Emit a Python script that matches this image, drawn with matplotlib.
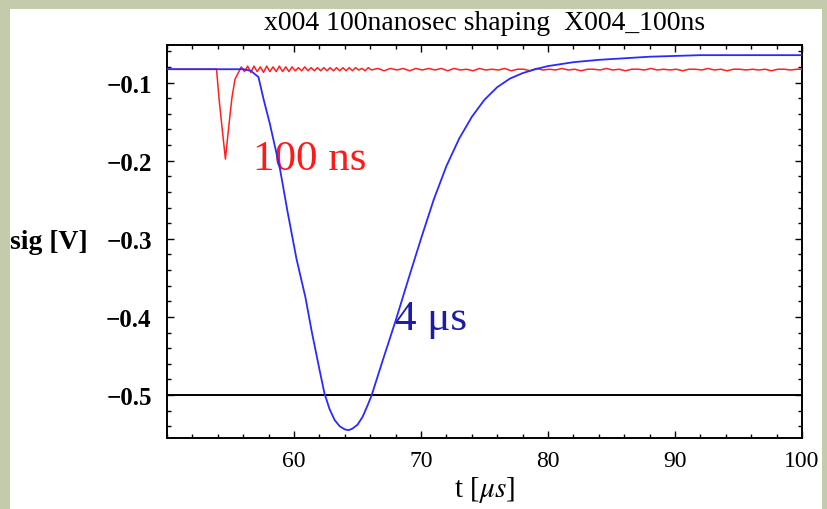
import matplotlib
matplotlib.use("Agg")
import matplotlib.pyplot as plt
from matplotlib.patches import Rectangle
from matplotlib.ticker import MultipleLocator

plt.rcParams['font.family'] = ['Liberation Serif', 'DejaVu Serif']
plt.rcParams['mathtext.fontset'] = 'stix'

# ---- data ----
blue_t = [50, 55.5, 56.0, 56.6, 57.2, 57.6, 58.1, 58.9, 59.5, 60.2, 60.9, 61.4, 62.0, 62.4,
          62.8, 63.2, 63.6, 64.0, 64.3, 64.6, 65.0, 65.4, 65.8, 66.1, 67.0, 68.0, 69.0,
          70.0, 71.0, 72.0, 73.0, 74.0, 75.0, 76.0, 77.0, 78.0, 79.0, 80.0, 82.0, 84.0,
          86.0, 88.0, 90.0, 92.0, 100]
blue_v = [-0.083, -0.083, -0.083, -0.085, -0.093, -0.121, -0.153, -0.211, -0.266, -0.326,
          -0.375, -0.419, -0.467, -0.498, -0.518, -0.532, -0.540, -0.544, -0.545, -0.543,
          -0.538, -0.528, -0.513, -0.501, -0.455, -0.405, -0.352, -0.300, -0.250, -0.207,
          -0.172, -0.144, -0.122, -0.106, -0.095, -0.088, -0.083, -0.079, -0.074, -0.071,
          -0.069, -0.067, -0.066, -0.065, -0.065]

red_t = [50, 53.9, 54.1, 54.35, 54.6, 54.8, 55.1, 55.35, 55.6,
         55.85, 56.1, 56.35, 56.6, 56.85, 57.1, 57.35, 57.6, 57.85, 58.1, 58.35, 58.6,
         58.85, 59.1, 59.35, 59.6, 59.85, 60.1, 60.35, 60.6, 60.85, 61.1, 61.35, 61.6,
         61.85, 62.1, 62.35, 62.6, 62.85, 63.1, 63.35, 63.6, 63.85, 64.1, 64.35, 64.6,
         64.85, 65.1, 65.35, 65.6, 65.85, 66.1, 66.6, 67.1, 67.6, 68.1, 68.6, 69.1,
         69.6, 70.1, 70.6, 71.1, 71.6, 72.1, 72.6, 73.1, 73.6, 74.1, 74.6, 75.1, 75.6,
         76.1, 76.6, 77.1, 77.6, 78.1, 78.6, 79.1, 79.6, 80.1, 80.6, 81.1, 81.6, 82.1,
         82.6, 83.1, 83.6, 84.1, 84.6, 85.1, 85.6, 86.1, 86.6, 87.1, 87.6, 88.1, 88.6,
         89.1, 89.6, 90.1, 90.6, 91.1, 91.6, 92.1, 92.6, 93.1, 93.6, 94.1, 94.6, 95.1,
         95.6, 96.1, 96.6, 97.1, 97.6, 98.1, 98.6, 99.1, 99.6, 100]
red_v = [-0.083, -0.083, -0.121, -0.160, -0.198, -0.166, -0.121, -0.096, -0.088,
         -0.080, -0.086, -0.079, -0.087, -0.079, -0.086, -0.080, -0.087, -0.079, -0.086,
         -0.080, -0.086, -0.079, -0.086, -0.080, -0.086, -0.080, -0.085, -0.081, -0.085,
         -0.080, -0.085, -0.081, -0.085, -0.081, -0.085, -0.081, -0.085, -0.081, -0.085,
         -0.081, -0.085, -0.081, -0.085, -0.081, -0.085, -0.081, -0.084, -0.082, -0.085,
         -0.081, -0.084, -0.082, -0.085, -0.082, -0.084, -0.082, -0.085, -0.082, -0.084,
         -0.082, -0.084, -0.082, -0.085, -0.082, -0.084, -0.083, -0.085, -0.082, -0.084,
         -0.083, -0.084, -0.082, -0.085, -0.083, -0.083, -0.085, -0.082, -0.084, -0.083,
         -0.084, -0.082, -0.084, -0.083, -0.085, -0.083, -0.083, -0.084, -0.082, -0.084,
         -0.083, -0.085, -0.083, -0.083, -0.084, -0.082, -0.084, -0.083, -0.084, -0.083,
         -0.085, -0.083, -0.083, -0.084, -0.082, -0.084, -0.083, -0.085, -0.083, -0.083,
         -0.084, -0.083, -0.084, -0.083, -0.085, -0.083, -0.083, -0.084, -0.083, -0.083]

ref_level = -0.5

x_ticks = [60, 70, 80, 90, 100]
y_ticks = [-0.1, -0.2, -0.3, -0.4, -0.5]
y_tick_labels = ['\u22120.1', '\u22120.2', '\u22120.3', '\u22120.4', '\u22120.5']

title = 'x004 100nanosec shaping  X004_100ns'

# ---- figure ----
W, H = 828, 510
fig = plt.figure(figsize=(W / 100, H / 100), dpi=100)
fig.patch.set_facecolor('#c4cbad')
fig.patches.append(Rectangle((10 / W, 0), (822 - 10) / W, (H - 10) / H,
                             transform=fig.transFigure, facecolor='white',
                             edgecolor='none', zorder=-10))

ax = fig.add_axes([167 / W, (H - 439) / H, (802 - 167) / W, (439 - 46) / H])
ax.set_facecolor('white')

ax.plot(red_t, red_v, color='#ff2020', lw=1.1, zorder=3)
ax.plot(blue_t, blue_v, color='#2a2aff', lw=1.3, zorder=4)
ax.axhline(ref_level, color='black', lw=1.4, zorder=2)

ax.set_xlim(50, 100)
ax.set_ylim(-0.555, -0.052)

ax.set_xticks(x_ticks)
ax.set_xticklabels([str(v) for v in x_ticks], fontsize=17)
ax.set_yticks(y_ticks)
ax.set_yticklabels(y_tick_labels, fontsize=18, fontweight='bold')
ax.xaxis.set_minor_locator(MultipleLocator(2))
ax.yaxis.set_minor_locator(MultipleLocator(0.02))
ax.tick_params(which='both', direction='in', top=True, right=True, width=1.0)
ax.tick_params(which='major', length=5)
ax.tick_params(which='minor', length=3)
ax.tick_params(axis='x', pad=9)
ax.tick_params(axis='y', pad=11)
for s in ax.spines.values():
    s.set_linewidth(1.4)

fig.text((167 + 802) / 2 / W, 1 - 30 / H, title, fontsize=20,
         ha='center', va='baseline')
ax.set_xlabel(r't [$\mu s$]', fontsize=21, labelpad=2)
fig.text(10 / W, 1 - 243 / H, 'sig [V]', fontsize=20, fontweight='bold',
         ha='left', va='center')

ax.annotate('100 ns', xy=(253 / W, 1 - 170 / H), xycoords='figure fraction',
            color='#ff1a1a', fontsize=31, ha='left', va='baseline')
ax.annotate('4 \u03bcs', xy=(395 / W, 1 - 330 / H), xycoords='figure fraction',
            color='#1c1ca8', fontsize=31, ha='left', va='baseline')

fig.savefig('out.png', dpi=100, facecolor=fig.get_facecolor())
